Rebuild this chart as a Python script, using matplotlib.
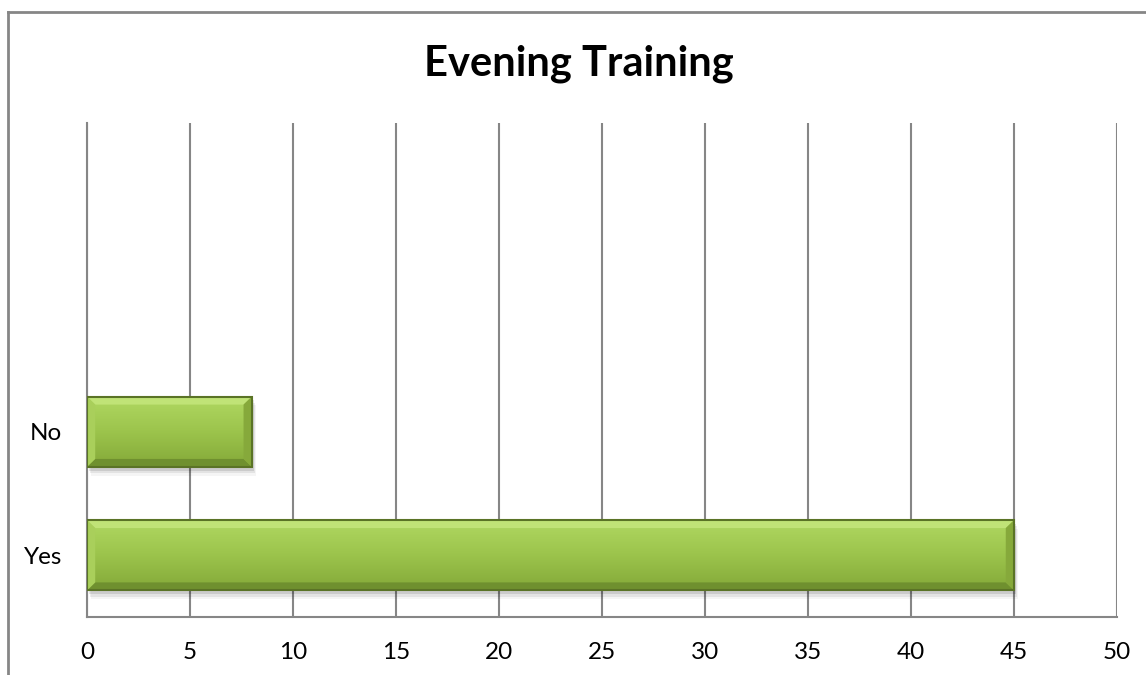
import numpy as np
import matplotlib.pyplot as plt
from matplotlib.patches import Rectangle, Polygon
from matplotlib.colors import LinearSegmentedColormap

# data
categories = ['Yes', 'No', '', '']
answers = [45, 8]
title = 'Evening Training'
xticks = [0, 5, 10, 15, 20, 25, 30, 35, 40, 45, 50]

plt.rcParams['font.family'] = ['Lato', 'DejaVu Sans']

fig = plt.figure(figsize=(11.46, 6.75), dpi=100)
ax = fig.add_axes([0.0759, 0.0859, 0.8988, 0.7319])

# chart border (only left and top visible in the crop)
fig.add_artist(plt.Line2D([8 / 1146, 8 / 1146], [0, 1 - 12 / 675], transform=fig.transFigure,
                          color='#868686', lw=2))
fig.add_artist(plt.Line2D([8 / 1146, 1], [1 - 12 / 675, 1 - 12 / 675], transform=fig.transFigure,
                          color='#868686', lw=2))

ax.set_xlim(0, 50)
ax.set_ylim(-0.5, len(categories) - 0.5)
ax.set_xticks(xticks)
ax.set_yticks(range(len(categories)))
ax.set_yticklabels(categories)
ax.tick_params(axis='both', length=0, labelsize=17.5, colors='black')
ax.tick_params(axis='x', pad=18)
ax.tick_params(axis='y', pad=18)
ax.xaxis.grid(True, color='#868686', lw=1.5)
ax.set_axisbelow(True)
for s in ['top', 'right']:
    ax.spines[s].set_visible(False)
for s in ['left', 'bottom']:
    ax.spines[s].set_color('#868686')
    ax.spines[s].set_linewidth(1.5)

fig.text(0.505, 1 - 64 / 675, title, ha='center', va='center', fontsize=30, fontweight='bold')

green = LinearSegmentedColormap.from_list('g', ['#84a939', '#9cc44c', '#b0d862'])
h = 0.57
bx = 0.4    # bevel width in data units (x)
by = 0.065  # bevel width in data units (y)
for i, v in enumerate(answers):
    y0, y1 = i - h / 2, i + h / 2
    # soft shadow
    for k, a in enumerate([0.10, 0.07, 0.04]):
        ax.add_patch(Rectangle((0.1 + 0.05 * k, y0 - 0.03 - 0.02 * k), v, h, color='black',
                               alpha=a, lw=0, zorder=2))
    grad = np.linspace(0, 1, 100).reshape(-1, 1)
    im = ax.imshow(grad, cmap=green, aspect='auto', extent=[0, v, y0, y1],
                   origin='lower', zorder=3)
    bar = Rectangle((0, y0), v, h, facecolor='none', edgecolor='#5a7326', lw=1.5, zorder=5)
    ax.add_patch(bar)
    im.set_clip_path(bar)
    # bevel edges
    ax.add_patch(Polygon([(0, y1), (v, y1), (v - bx, y1 - by), (bx, y1 - by)],
                         color='#c0e377', lw=0, zorder=4))
    ax.add_patch(Polygon([(0, y0), (v, y0), (v - bx, y0 + by), (bx, y0 + by)],
                         color='#6f902f', lw=0, zorder=4))
    ax.add_patch(Polygon([(0, y0), (0, y1), (bx, y1 - by), (bx, y0 + by)],
                         color='#a9cf5b', lw=0, zorder=4))
    ax.add_patch(Polygon([(v, y0), (v, y1), (v - bx, y1 - by), (v - bx, y0 + by)],
                         color='#86a93b', lw=0, zorder=4))

ax.set_xlim(0, 50)
ax.set_ylim(-0.5, len(categories) - 0.5)

fig.savefig('out.png', dpi=100)
